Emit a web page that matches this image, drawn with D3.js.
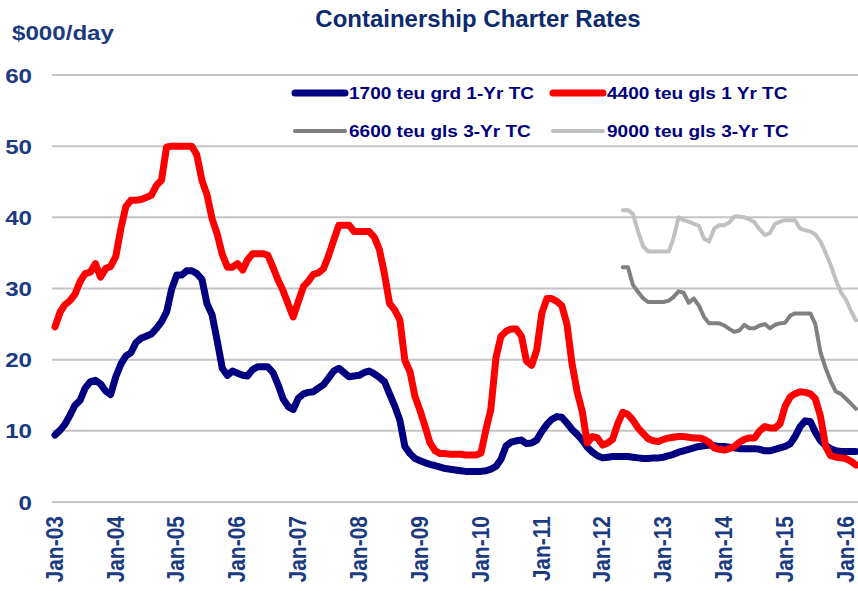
<!DOCTYPE html>
<html>
<head>
<meta charset="utf-8">
<script src="https://cdn.jsdelivr.net/npm/d3@7"></script>
<style>
  html, body { margin: 0; padding: 0; background: #fff; }
  svg { display: block; font-family: Arial, "Liberation Sans", sans-serif; font-weight: bold; }
</style>
</head>
<body>
<svg id="chart" width="858" height="591"></svg>
<script>
// monthly values, $000/day, starting Jan-03
const startMonth = new Date(2003, 0, 1)

const teu1700 = [
  9.4, 10.1, 10.9, 12.2, 13.6, 14.3, 16.0, 16.9, 17.1, 16.6, 15.6, 15.1,
  17.6, 19.4, 20.5, 21.0, 22.4, 23.0, 23.3, 23.6, 24.4, 25.3, 26.7, 29.9,
  31.9, 31.9, 32.5, 32.5, 32.1, 31.3, 27.9, 26.3, 22.6, 18.8, 17.8, 18.4,
  18.1, 17.8, 17.7, 18.6, 19.0, 19.0, 19.0, 18.2, 16.5, 14.5, 13.4, 13.0,
  14.6, 15.2, 15.4, 15.5, 16.0, 16.5, 17.4, 18.4, 18.8, 18.2, 17.6, 17.7,
  17.8, 18.2, 18.4, 18.0, 17.5, 16.9, 15.2, 13.5, 11.5, 7.8, 6.8, 6.1,
  5.8, 5.5, 5.3, 5.1, 4.9, 4.7, 4.6, 4.5, 4.4, 4.3, 4.3, 4.3,
  4.3, 4.4, 4.6, 5.0, 6.0, 7.9, 8.4, 8.6, 8.7, 8.2, 8.3, 8.7,
  9.9, 10.9, 11.6, 12.0, 11.9, 11.1, 10.2, 9.5, 8.7, 7.7, 7.0, 6.5,
  6.2, 6.3, 6.4, 6.4, 6.4, 6.4, 6.3, 6.2, 6.1, 6.1, 6.2, 6.2,
  6.3, 6.5, 6.7, 7.0, 7.2, 7.4, 7.6, 7.8, 7.9, 8.0, 7.9, 7.8,
  7.8, 7.7, 7.6, 7.5, 7.5, 7.5, 7.5, 7.4, 7.2, 7.2, 7.4, 7.6,
  7.8, 8.2, 9.2, 10.6, 11.4, 11.3, 9.8, 8.6, 7.9, 7.5, 7.2, 7.1,
  7.1, 7.1, 7.1
]

const teu4400 = [
  24.6, 26.7, 27.7, 28.3, 29.2, 31.0, 32.1, 32.3, 33.5, 31.6, 32.8, 33.1,
  34.5, 38.5, 41.5, 42.4, 42.4, 42.5, 42.8, 43.1, 44.5, 45.2, 49.9, 50.0,
  50.0, 50.0, 50.0, 50.0, 48.8, 45.2, 43.2, 39.8, 37.6, 34.8, 33.0, 33.0,
  33.5, 32.6, 34.0, 34.9, 34.9, 34.9, 34.7, 33.0, 31.2, 29.7, 27.8, 26.0,
  28.2, 30.3, 31.0, 32.0, 32.2, 32.8, 34.6, 36.8, 38.9, 38.9, 38.9, 38.0,
  38.0, 38.0, 38.0, 37.2, 35.5, 32.0, 27.9, 27.0, 25.6, 19.9, 18.3, 14.8,
  12.8, 10.5, 8.3, 7.2, 6.8, 6.8, 6.7, 6.7, 6.7, 6.6, 6.6, 6.6,
  6.9, 10.3, 13.0, 20.3, 23.3, 24.0, 24.3, 24.3, 23.3, 19.8, 19.2, 21.3,
  26.5, 28.6, 28.6, 28.2, 27.6, 25.0, 19.5, 15.5, 12.7, 8.3, 9.2, 9.0,
  8.0, 8.3, 8.8, 11.0, 12.6, 12.3, 11.5, 10.4, 9.6, 8.9, 8.6, 8.5,
  8.8, 9.0, 9.1, 9.2, 9.2, 9.1, 9.0, 9.0, 8.8, 8.4, 7.6, 7.4,
  7.3, 7.5, 7.8, 8.4, 8.8, 9.0, 9.0, 10.0, 10.6, 10.4, 10.4, 11.0,
  13.5, 14.8, 15.2, 15.5, 15.4, 15.2, 14.5, 12.0, 7.8, 6.5, 6.3, 6.2,
  6.1, 5.7, 5.2
]

// 3-yr series begin Jun-12 (month index 112)
const threeYrStart = 112
const teu6600 = [
  33.0, 33.0, 30.5, 29.5, 28.6, 28.1, 28.1, 28.1,
  28.1, 28.3, 28.8, 29.6, 29.4, 28.0, 28.6, 27.6, 26.0, 25.1, 25.1, 25.1,
  24.8, 24.3, 23.9, 24.1, 24.9, 24.4, 24.4, 24.8, 25.0, 24.4, 24.9, 25.1,
  25.2, 26.2, 26.5, 26.5, 26.5, 26.5, 25.0, 21.0, 18.8, 17.0, 15.5, 15.2,
  14.5, 13.8, 13.1
]
const teu9000 = [
  41.0, 41.0, 40.5, 38.0, 35.9, 35.2, 35.2, 35.2,
  35.2, 35.2, 37.0, 40.0, 39.6, 39.4, 39.1, 38.8, 37.0, 36.6, 38.4, 38.9,
  38.9, 39.3, 40.1, 40.1, 40.0, 39.7, 39.3, 38.3, 37.5, 37.8, 39.1, 39.4,
  39.6, 39.6, 39.6, 38.4, 38.2, 38.0, 37.6, 36.6, 35.0, 33.3, 31.2, 29.5,
  28.4, 26.8, 25.5
]

const yTicks = [0, 10, 20, 30, 40, 50, 60]
const xTickYears = d3.range(2003, 2017)

const series = [
  { name: "1700 teu grd 1-Yr TC", values: teu1700, offset: 0, color: "#000080", width: 7 },
  { name: "4400 teu gls 1 Yr TC", values: teu4400, offset: 0, color: "#ff0000", width: 7 },
  { name: "6600 teu gls 3-Yr TC", values: teu6600, offset: threeYrStart, color: "#808080", width: 4 },
  { name: "9000 teu gls 3-Yr TC", values: teu9000, offset: threeYrStart, color: "#c0c0c0", width: 4 }
]

const svg = d3.select("#chart")
const W = 858
const stretch = 1.15   // the text in the original is drawn a bit wide

const x = d3.scaleTime()
  .domain([startMonth, new Date(2016, 2, 1)])
  .range([55, 856])
const y = d3.scaleLinear().domain([0, 60]).range([502, 75])

// gridlines
svg.append("g")
  .selectAll("line")
  .data(yTicks)
  .join("line")
  .attr("x1", 52).attr("x2", W)
  .attr("y1", d => y(d)).attr("y2", d => y(d))
  .attr("stroke", "#c4c4c4")
  .attr("stroke-width", 2)

// y labels
svg.append("g")
  .selectAll("text")
  .data(yTicks)
  .join("text")
  .attr("transform", d => `translate(32,${y(d)}) scale(${stretch},1)`)
  .attr("text-anchor", "end")
  .attr("dy", "0.36em")
  .attr("font-size", 21)
  .attr("fill", "#1b3a80")
  .text(d => d)

// x labels (rotated)
const fmt = d3.timeFormat("%b-%y")
svg.append("g")
  .selectAll("text")
  .data(xTickYears.map(yr => new Date(yr, 0, 1)))
  .join("text")
  .attr("transform", d => `translate(${x(d) - 1},516) rotate(-90) scale(1,${stretch})`)
  .attr("text-anchor", "end")
  .attr("dy", "0.36em")
  .attr("font-size", 21)
  .attr("fill", "#1b3a80")
  .text(d => fmt(d))

// lines
const line = d3.line()
  .x(d => x(d.date))
  .y(d => y(d.value))

series.forEach(s => {
  const pts = s.values.map((v, i) => ({ date: d3.timeMonth.offset(startMonth, s.offset + i), value: v }))
  svg.append("path")
    .datum(pts)
    .attr("fill", "none")
    .attr("stroke", s.color)
    .attr("stroke-width", s.width)
    .attr("stroke-linejoin", "round")
    .attr("stroke-linecap", "round")
    .attr("d", line)
})

// title & unit
svg.append("text")
  .attr("x", 478).attr("y", 27)
  .attr("text-anchor", "middle")
  .attr("font-size", 24)
  .attr("fill", "#0e2a6e")
  .text("Containership Charter Rates")

svg.append("text")
  .attr("transform", `translate(12,40) scale(${stretch},1)`)
  .attr("font-size", 21)
  .attr("fill", "#1b3a80")
  .text("$000/day")

// legend
const legendPos = [[295, 93], [553, 93], [295, 131], [553, 131]]
const legend = svg.append("g")
series.forEach((s, i) => {
  const [lx, ly] = legendPos[i]
  legend.append("line")
    .attr("x1", lx).attr("x2", lx + 50)
    .attr("y1", ly).attr("y2", ly)
    .attr("stroke", s.color)
    .attr("stroke-width", s.width)
    .attr("stroke-linecap", "round")
  legend.append("text")
    .attr("transform", `translate(${lx + 54},${ly}) scale(1.12,1)`)
    .attr("dy", "0.36em")
    .attr("font-size", 17)
    .attr("fill", "#000080")
    .text(s.name)
})
</script>
</body>
</html>
